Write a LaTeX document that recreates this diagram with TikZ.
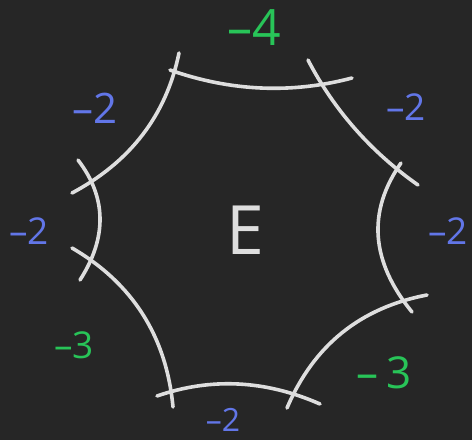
\documentclass[tikz,border=0pt]{standalone}
\usepackage{fontspec}
\setmainfont{Open Sans}
\usepackage{xcolor}
\usetikzlibrary{calc}
\definecolor{bgDark}{RGB}{38,38,38}
\definecolor{chalk}{RGB}{222,222,222}
\definecolor{selfBlue}{RGB}{98,118,232}
\definecolor{selfGreen}{RGB}{40,196,88}
\tikzset{
  curveline/.style={draw=chalk, line width=3.6pt, line cap=round},
  weight/.style={inner sep=0pt, font=\fontsize{37}{40}\selectfont},
  wblue/.style={weight, text=selfBlue},
  wgreen/.style={weight, text=selfGreen},
  face/.style={inner sep=0pt, text=chalk, font=\fontsize{68}{70}\selectfont}
}
% parabolic arc from #1 to #3, pulled by the point #2
\newcommand{\bowarc}[3]{\draw[curveline] (#1) .. controls ($(#1)!2/3!(#2)$) and ($(#3)!2/3!(#2)$) .. (#3);}

\begin{document}
\begin{tikzpicture}[x=1pt,y=-1pt]
  \fill[bgDark] (0,0) rectangle (472,440);

  % end points and pull points of the eight curves
  \coordinate (topA) at (170,70);   \coordinate (topB) at (352,78);   \coordinate (topQ) at (261,102);
  \coordinate (urA) at (308,60);    \coordinate (urB) at (418,185);   \coordinate (urQ) at (347,135);
  \coordinate (rtA) at (401,163);   \coordinate (rtB) at (412,312);   \coordinate (rtQ) at (350,236);
  \coordinate (lrA) at (427,295);   \coordinate (lrB) at (287,408);   \coordinate (lrQ) at (327,314);
  \coordinate (btA) at (320,404);   \coordinate (btB) at (157,396);   \coordinate (btQ) at (238,368);
  \coordinate (llA) at (173,407);   \coordinate (llB) at (72,248);    \coordinate (llQ) at (163,301);
  \coordinate (ltA) at (80,280);    \coordinate (ltB) at (78,160);    \coordinate (ltQ) at (121,216);
  \coordinate (ulA) at (72,193);    \coordinate (ulB) at (179,53);    \coordinate (ulQ) at (160,146);

  % the curves, each bowed toward the middle
  \bowarc{topA}{topQ}{topB}
  \bowarc{urA}{urQ}{urB}
  \bowarc{rtA}{rtQ}{rtB}
  \bowarc{lrA}{lrQ}{lrB}
  \bowarc{btA}{btQ}{btB}
  \bowarc{llA}{llQ}{llB}
  \bowarc{ltA}{ltQ}{ltB}
  \bowarc{ulA}{ulQ}{ulB}

  % self-intersection numbers
  \node[wgreen, font=\fontsize{50}{52}\selectfont] (wTop) at (254,28) {\textendash4};
  \node[wblue] (wUpRight) at (406,107) {\textendash2};
  \node[wblue] (wRight) at (448,231) {\textendash2};
  \node[wgreen, font=\fontsize{44}{46}\selectfont] (wLowRight) at (384,373) {\textendash\,3};
  \node[wblue, font=\fontsize{32}{34}\selectfont] (wBottom) at (223,420) {\textendash2};
  \node[wgreen] (wLowLeft) at (74,345) {\textendash3};
  \node[wblue] (wLeft) at (29,231) {\textendash2};
  \node[wblue, font=\fontsize{42}{44}\selectfont] (wUpLeft) at (95,108) {\textendash2};

  \node[face] (curveE) at (245,230) {E};
\end{tikzpicture}
\end{document}
